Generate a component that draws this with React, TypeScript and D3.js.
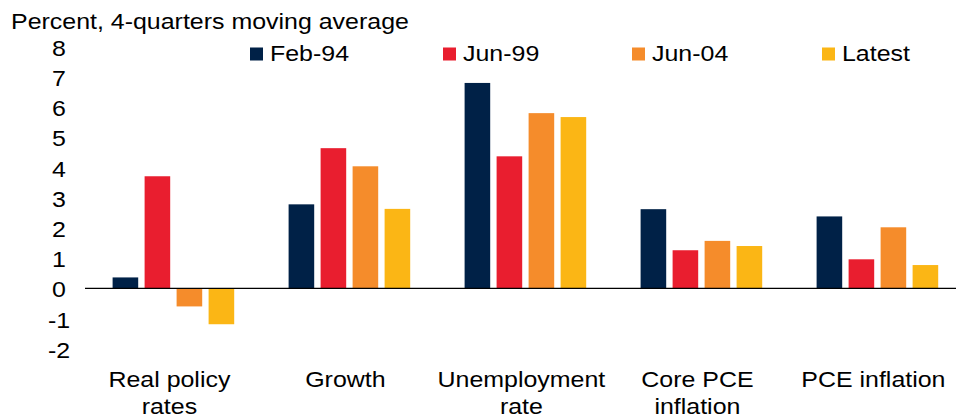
import React from "react";
import * as d3 from "d3";

const categories = [["Real policy", "rates"], ["Growth"], ["Unemployment", "rate"], ["Core PCE", "inflation"], ["PCE inflation"]];
const seriesNames = ["Feb-94", "Jun-99", "Jun-04", "Latest"];
const feb94 = [0.36, 2.78, 6.8, 2.62, 2.38];
const jun99 = [3.71, 4.64, 4.37, 1.26, 0.96];
const jun04 = [-0.6, 4.04, 5.8, 1.57, 2.02];
const latest = [-1.19, 2.63, 5.67, 1.4, 0.77];
const yTicks = [8, 7, 6, 5, 4, 3, 2, 1, 0, -1, -2];
const colors = ["#002147", "#E91E2F", "#F58C2B", "#FBB615"];
const title = "Percent, 4-quarters moving average";

const W = 956;
const H = 417;
const FONT = "'Liberation Sans', Arial, sans-serif";
const SX = 1.085;

function T(props: { x: number; y: number; anchor?: string; baseline?: string; children: React.ReactNode }) {
  return (
    <g transform={`translate(${props.x},${props.y}) scale(${SX},1)`}>
      <text
        x={0}
        y={0}
        fontSize={23}
        fill="#000"
        textAnchor={props.anchor || "start"}
        dominantBaseline={props.baseline || "auto"}
      >
        {props.children}
      </text>
    </g>
  );
}

export default function App() {
  const seriesData = [feb94, jun99, jun04, latest];
  const catKeys = categories.map((c) => c.join(" "));
  const x0 = d3.scaleBand<string>().domain(catKeys).range([85.4, 965.4]).padding(0);
  const x1 = d3
    .scaleBand<string>()
    .domain(seriesNames)
    .range([0, x0.bandwidth()])
    .paddingInner(0.2)
    .paddingOuter(0.85);
  const y = d3.scaleLinear().domain([-2, 8]).range([348.7, 46.7]);
  const legendX = [250, 443, 632, 822];

  return (
    <svg
      width={W}
      height={H}
      style={{ position: "absolute", left: 0, top: 0, background: "#fff" }}
      fontFamily={FONT}
    >
      <T x={11} y={29}>{title}</T>
      {yTicks.map((t) => (
        <T key={t} x={59} y={y(t) + 1} anchor="middle" baseline="central">
          {t}
        </T>
      ))}
      {seriesNames.map((s, i) => (
        <g key={s}>
          <rect x={legendX[i]} y={47.5} width={13} height={13} fill={colors[i]} />
          <T x={legendX[i] + 20} y={61}>{s}</T>
        </g>
      ))}
      {catKeys.map((c, ci) => (
        <g key={c} transform={`translate(${x0(c)},0)`}>
          {seriesNames.map((s, si) => {
            const v = seriesData[si][ci];
            return (
              <rect
                key={s}
                x={x1(s)}
                y={Math.min(y(v), y(0))}
                width={x1.bandwidth()}
                height={Math.abs(y(v) - y(0))}
                fill={colors[si]}
              />
            );
          })}
        </g>
      ))}
      <line x1={85} x2={W} y1={y(0)} y2={y(0)} stroke="#000" strokeWidth={1.3} />
      {categories.map((lines, ci) => (
        <g key={ci}>
          {lines.map((l, li) => (
            <T key={li} x={(x0(catKeys[ci]) as number) + x0.bandwidth() / 2 - 4} y={387 + li * 26.5} anchor="middle">
              {l}
            </T>
          ))}
        </g>
      ))}
    </svg>
  );
}
